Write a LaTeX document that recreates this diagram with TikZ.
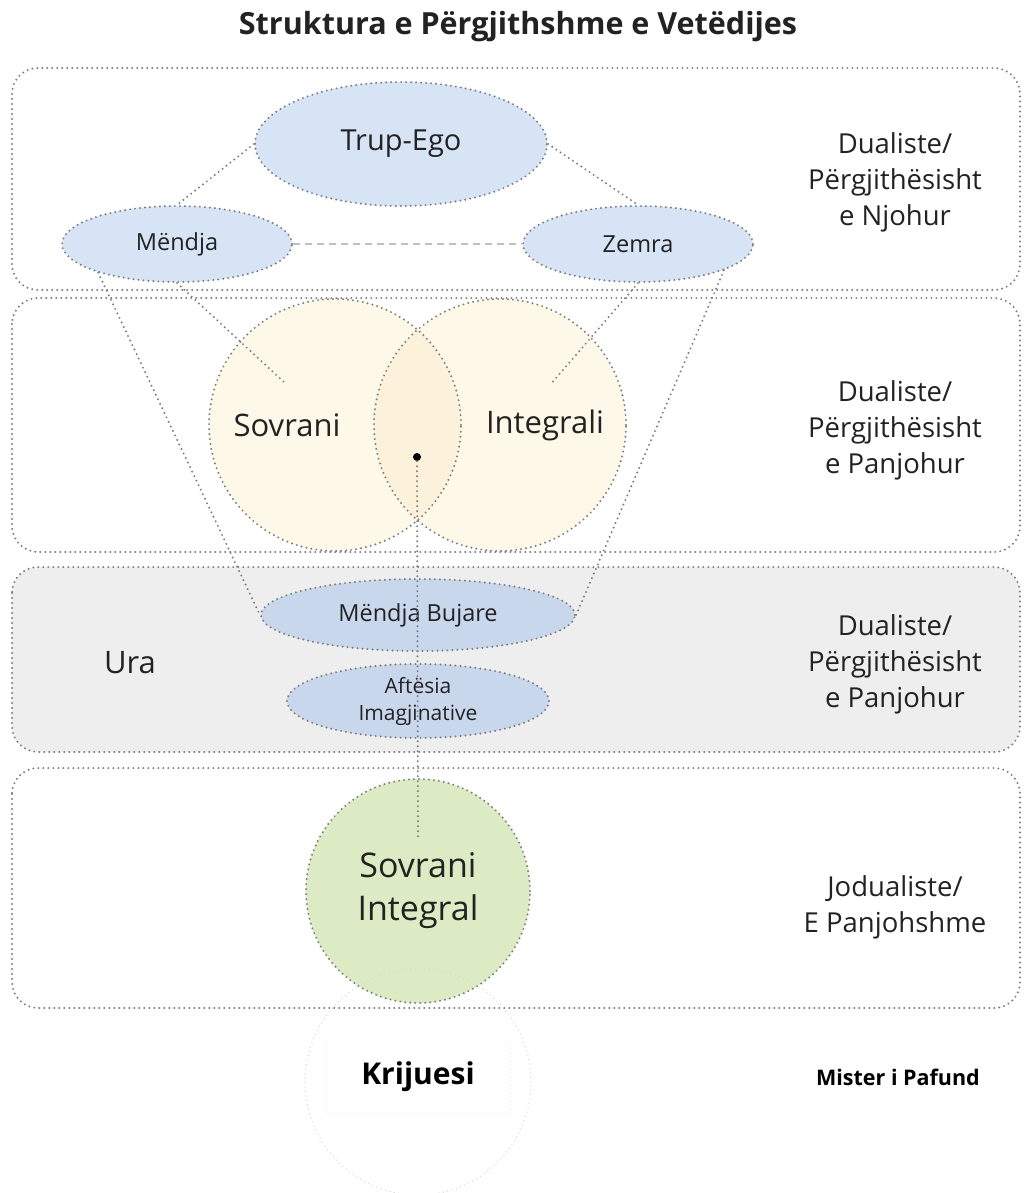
\documentclass[tikz,border=0pt]{standalone}
\usepackage{fontspec}
\setmainfont{Open Sans}
\usetikzlibrary{shapes.geometric}
\definecolor{dotgray}{HTML}{7E7E7E}
\definecolor{dashgray}{HTML}{C0C0C0}
\definecolor{faintgray}{HTML}{D8D8D8}
\definecolor{faintyellow}{HTML}{F4EACB}
\definecolor{lightblue}{HTML}{D6E4F6}
\definecolor{midblue}{HTML}{C9D7ED}
\definecolor{cream}{HTML}{FEF8E9}
\definecolor{creamdark}{HTML}{FCF2DC}
\definecolor{softgreen}{HTML}{DCEBC3}
\definecolor{panelgray}{HTML}{EEEEEE}
\definecolor{txt}{HTML}{222222}
\newcommand{\fsz}[2]{\fontsize{#1}{#2}\selectfont}
\tikzset{
  dotline/.style={draw=dotgray, line width=2.2pt, line cap=round, dash pattern=on 0pt off 5pt},
  dashline/.style={draw=dashgray, line width=1.6pt, dash pattern=on 7pt off 5pt},
  panel/.style={dotline, rounded corners=26pt},
  oval/.style={ellipse, dotline, fill=lightblue, inner sep=0pt, text=txt},
  sidelabel/.style={align=center, text=txt, font=\fsz{27.5}{36}},
}
\begin{document}
\begin{tikzpicture}[x=1pt,y=-1pt]
\useasboundingbox (0,0) rectangle (1023,1193);
\fill[white] (0,0) rectangle (1023,1193);

% title
\node[font=\bfseries\fsz{30.5}{36}, text=txt] (title) at (518,27) {Struktura e Përgjithshme e Vetëdijes};

% panels
\draw[panel, fill=white] (12,68) rectangle (1020,290);
\draw[panel, fill=white] (12,298) rectangle (1020,552);
\draw[panel, fill=panelgray] (12,567) rectangle (1020,752);
\draw[panel, fill=white] (12,768) rectangle (1020,1008);

% top row
\node[oval, minimum width=292pt, minimum height=124pt, font=\fsz{29}{34}] (trup) at (401,144) {Trup-Ego};
\node[oval, minimum width=230pt, minimum height=76pt, font=\fsz{23.5}{28}] (mendja) at (177,244) {Mëndja};
\node[oval, minimum width=230pt, minimum height=76pt, font=\fsz{23.5}{28}] (zemra) at (638,244) {Zemra};

% Venn
\node[circle, fill=cream, minimum size=252pt, inner sep=0pt] (sov) at (335,425) {};
\node[circle, fill=cream, minimum size=252pt, inner sep=0pt] (int) at (500,425) {};
\begin{scope}
  \clip (sov.center) circle (126pt);
  \fill[creamdark] (int.center) circle (126pt);
\end{scope}
\draw[dotline] (sov.center) circle (126pt);
\draw[dotline] (int.center) circle (126pt);
\node[font=\fsz{31}{36}, text=txt] (sovtxt) at (287,425) {Sovrani};
\node[font=\fsz{31}{36}, text=txt] (inttxt) at (545,425) {Integrali};

% bridge
\node[oval, fill=midblue, minimum width=314pt, minimum height=72pt, font=\fsz{23.5}{28}] (bujare) at (418,615) {Mëndja Bujare};
\node[oval, fill=midblue, minimum width=262pt, minimum height=74pt, align=center, font=\fsz{21}{27}] (aft) at (418,701) {Aftësia\\Imagjinative};
\node[font=\fsz{31}{36}, text=txt] (ura) at (130,663) {Ura};

% bottom
\node[circle, dotline, fill=softgreen, minimum size=224pt, inner sep=0pt, align=center, font=\fsz{34}{43}, text=txt] (si) at (418,891) {Sovrani\\Integral};
\node[circle, draw=faintgray, line width=1.4pt, line cap=round, dash pattern=on 0pt off 4.5pt, minimum size=226pt, inner sep=0pt] (krc) at (418,1082) {};
\node[draw=faintyellow, line width=1.2pt, line cap=round, dash pattern=on 0pt off 4pt, minimum width=183pt, minimum height=74pt, font=\bfseries\fsz{30}{36}, text=black] (krijuesi) at (418,1077) {Krijuesi};

% side labels
\node[sidelabel] (l1) at (895,182) {Dualiste/\\Përgjithësisht\\e Njohur};
\node[sidelabel] (l2) at (895,430) {Dualiste/\\Përgjithësisht\\e Panjohur};
\node[sidelabel] (l3) at (895,664) {Dualiste/\\Përgjithësisht\\e Panjohur};
\node[sidelabel] (l4) at (895,907) {Jodualiste/\\E Panjohshme};
\node[font=\bfseries\fsz{21.5}{26}, text=black] (mister) at (898,1077) {Mister i Pafund};

% connectors
\coordinate (sovin) at (285,383);
\coordinate (intin) at (550,385);
\coordinate (siin) at (418,838);
\node[circle, fill=black, inner sep=0pt, minimum size=8pt] (dot) at (417,457) {};
\draw[dotline] (trup.west) -- (mendja.north);
\draw[dotline] (trup.east) -- (zemra.north);
\draw[dashline] (mendja.east) -- (zemra.west);
\draw[dotline] (mendja.south) -- (sovin);
\draw[dotline] (zemra.south) -- (intin);
\draw[dotline] (mendja.200) -- (bujare.west);
\draw[dotline] (zemra.-17) -- (bujare.east);
\draw[dotline] (dot.south) -- (siin);
\end{tikzpicture}
\end{document}
